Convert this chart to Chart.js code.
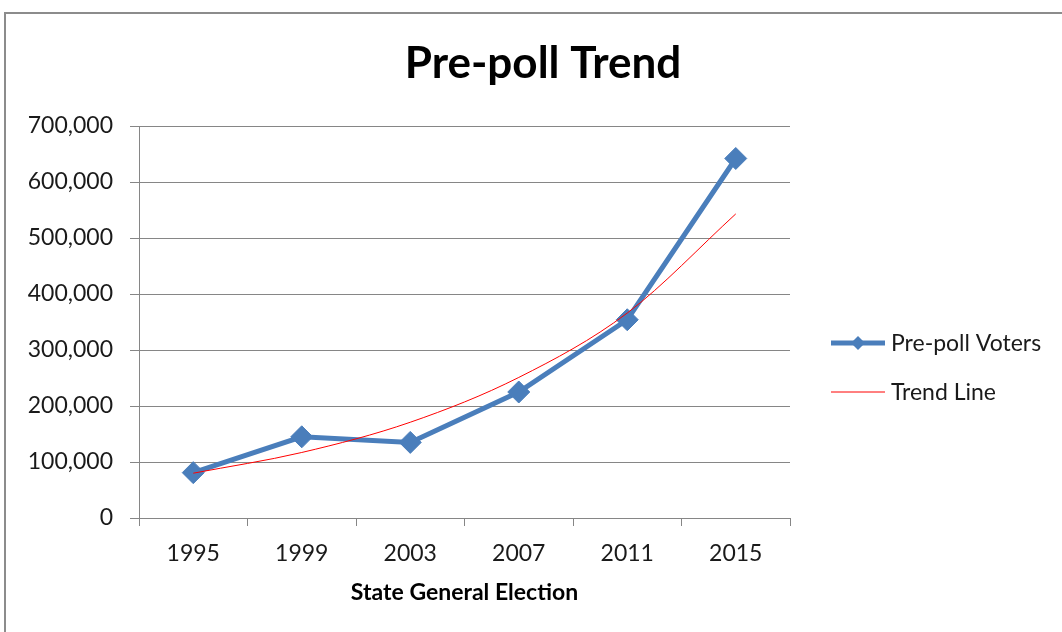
<!DOCTYPE html>
<html>
<head>
<meta charset="utf-8">
<title>Pre-poll Trend</title>
<script src="https://cdn.jsdelivr.net/npm/chart.js@4.4.1/dist/chart.umd.min.js"></script>
<style>
  html, body { margin: 0; padding: 0; background: #fff; overflow: hidden; }
  #wrap { position: relative; width: 1062px; height: 632px; }
  #frame {
    position: absolute; left: 4px; top: 12px; width: 1100px; height: 700px;
    border-left: 2px solid #8c8c8c; border-top: 2px solid #8c8c8c;
    pointer-events: none;
  }
</style>
</head>
<body>
<div id="wrap">
  <canvas id="chart"></canvas>
  <div id="frame"></div>
</div>
<script>
// election years and pre-poll voter counts
const years = ['1995', '1999', '2003', '2007', '2011', '2015']
const prePollVoters = [81000, 145000, 135000, 225000, 354000, 642000]
// exponential trend line, read at each election year
const trendLine = [80000, 117000, 171000, 251000, 366000, 543000]

const BLUE = '#4a7ebb'
const RED  = '#ff0000'
const GRID = '#868686'
const FONT = 'Lato, Carlito, Calibri, sans-serif'

// title centred on the whole frame, not just the plot area
const frameTitle = {
  id: 'frameTitle',
  afterDraw(chart) {
    const ctx = chart.ctx
    ctx.save()
    ctx.font = 'bold 44px ' + FONT
    ctx.fillStyle = '#000'
    ctx.textAlign = 'center'
    ctx.textBaseline = 'alphabetic'
    ctx.fillText('Pre-poll Trend', 543, 78)
    ctx.restore()
  },
}

// legend drawn by hand: thick line with a diamond, thin red line
const sideLegend = {
  id: 'sideLegend',
  afterDraw(chart) {
    const ctx = chart.ctx
    const items = [
      { label: chart.data.datasets[0].label, color: BLUE, width: 5, marker: true, y: 343 },
      { label: chart.data.datasets[1].label, color: RED,  width: 1, marker: false, y: 392 },
    ]
    ctx.save()
    ctx.font = '23px ' + FONT
    ctx.textBaseline = 'middle'
    ctx.fillStyle = '#1a1a1a'
    items.forEach(it => {
      ctx.strokeStyle = it.color
      ctx.lineWidth = it.width
      ctx.beginPath()
      ctx.moveTo(831, it.y)
      ctx.lineTo(885, it.y)
      ctx.stroke()
      if (it.marker) {
        ctx.fillStyle = it.color
        ctx.beginPath()
        ctx.moveTo(858 - 7, it.y)
        ctx.lineTo(858, it.y - 7)
        ctx.lineTo(858 + 7, it.y)
        ctx.lineTo(858, it.y + 7)
        ctx.closePath()
        ctx.fill()
        ctx.fillStyle = '#1a1a1a'
      }
      ctx.fillText(it.label, 891, it.y + 1)
    })
    ctx.restore()
  },
}

new Chart(document.getElementById('chart'), {
  type: 'line',
  plugins: [frameTitle, sideLegend],
  data: {
    labels: years,
    datasets: [
      {
        label: 'Pre-poll Voters',
        data: prePollVoters,
        borderColor: BLUE,
        backgroundColor: BLUE,
        borderWidth: 5,
        pointStyle: 'rectRot',
        pointRadius: 11,
        pointBorderWidth: 1,
        tension: 0,
        order: 1,
      },
      {
        label: 'Trend Line',
        data: trendLine,
        borderColor: RED,
        borderWidth: 1,
        pointRadius: 0,
        cubicInterpolationMode: 'monotone',
        order: 0,
      },
    ],
  },
  options: {
    responsive: true,
    maintainAspectRatio: false,
    animation: false,
    layout: { padding: { left: 0, right: 272, top: 126, bottom: 0 } },
    plugins: {
      legend: { display: false },
      tooltip: { enabled: false },
      title: { display: false },
    },
    scales: {
      x: {
        offset: true,
        afterFit: scale => { scale.height = 114 },
        grid: { offset: true, drawOnChartArea: false, drawTicks: true, tickLength: 8, color: GRID },
        border: { display: true, color: GRID },
        ticks: { color: '#1a1a1a', padding: 14, maxRotation: 0, font: { family: FONT, size: 23 } },
        title: {
          display: true,
          text: 'State General Election',
          color: '#000',
          font: { family: FONT, size: 23, weight: 'bold', lineHeight: 1.2 },
          padding: { top: 4, bottom: 26 },
        },
      },
      y: {
        min: 0,
        max: 700000,
        afterFit: scale => { scale.width = 139 },
        grid: { color: GRID, tickLength: 9 },
        border: { display: true, color: GRID },
        ticks: { stepSize: 100000, color: '#1a1a1a', padding: 17, font: { family: FONT, size: 23 } },
      },
    },
  },
})
</script>
</body>
</html>
